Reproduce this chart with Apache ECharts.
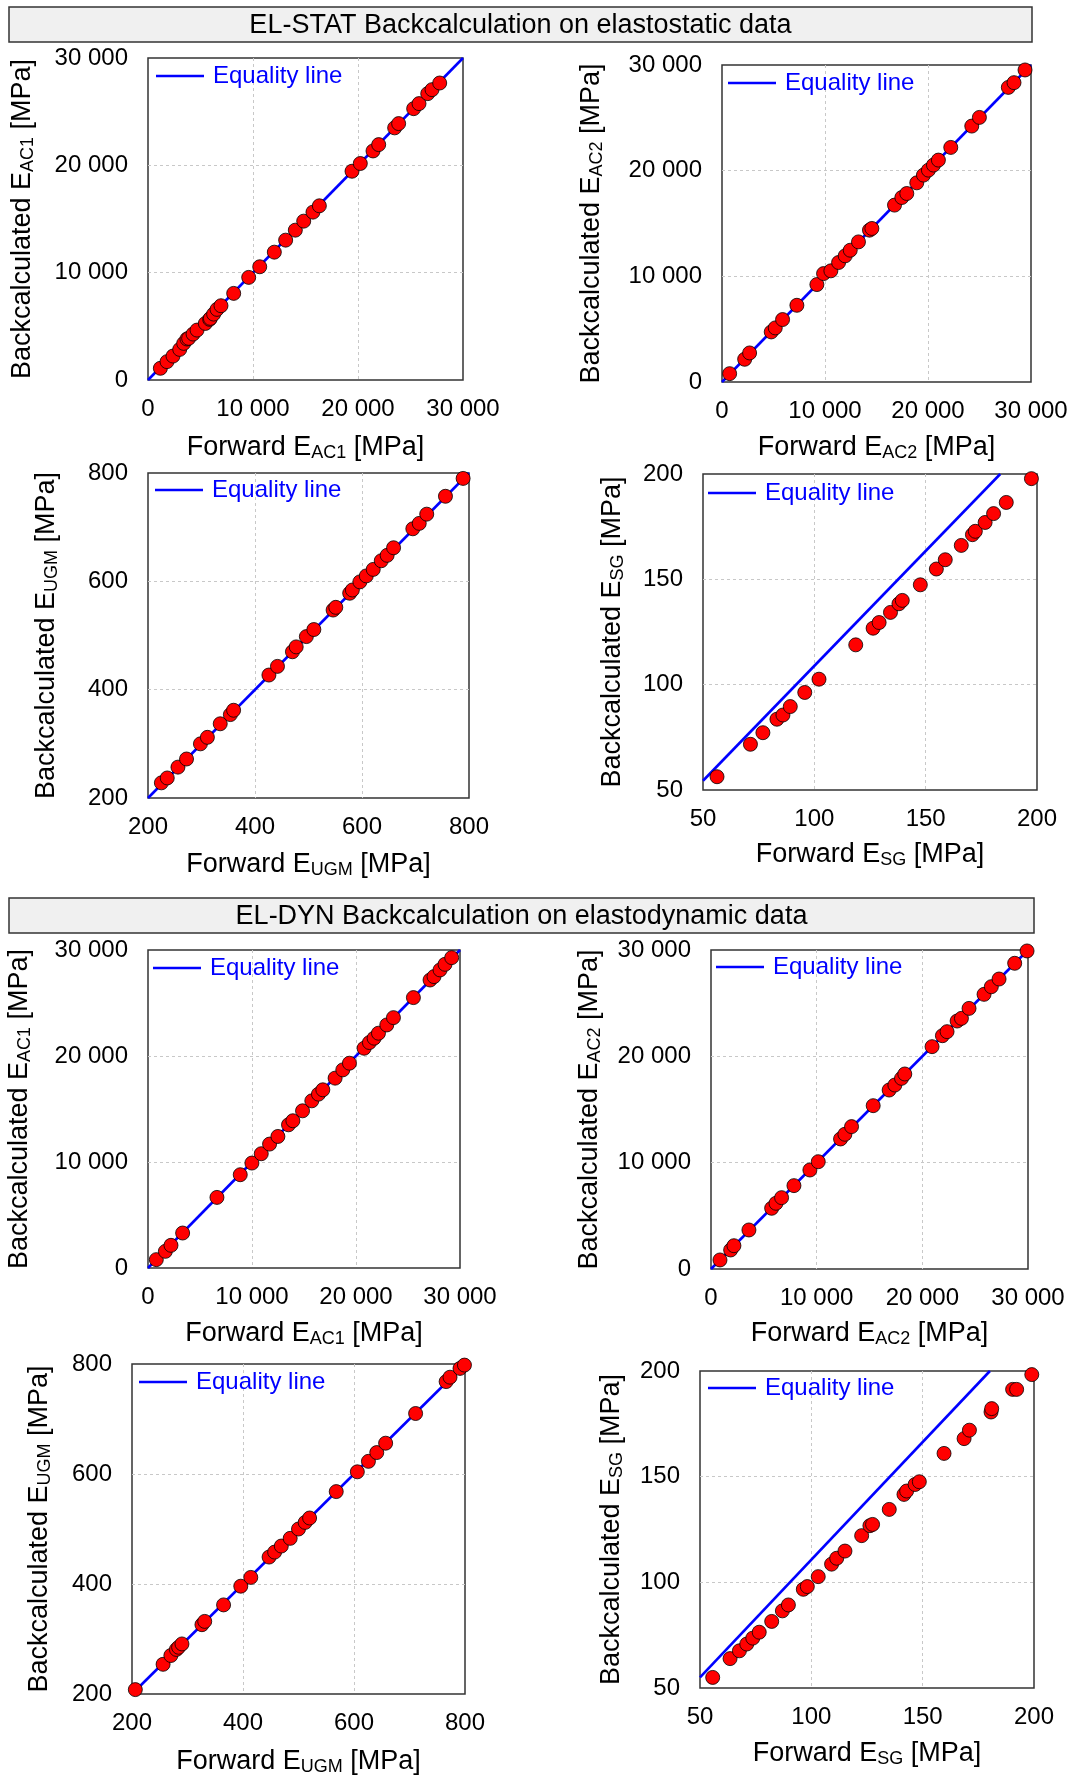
<!DOCTYPE html>
<html>
<head>
<meta charset="utf-8">
<script src="https://cdn.jsdelivr.net/npm/echarts@6/dist/echarts.min.js"></script>
<style>
html,body{margin:0;padding:0;background:#fff;}
#chart{width:1075px;height:1778px;}
</style>
</head>
<body>
<div id="chart"></div>
<script>
// ---------- tick labels / axis ranges ----------
const acTicks = [0, 10000, 20000, 30000];
const ugmTicks = [200, 400, 600, 800];
const sgTicks = [50, 100, 150, 200];

// ---------- titles ----------
const sectionTitles = ['EL-STAT Backcalculation on elastostatic data', 'EL-DYN Backcalculation on elastodynamic data'];
const legendName = 'Equality line';

// ---------- EL-STAT data ----------
const statAc1Fwd = [1180,1810,2380,3020,3400,3710,3870,4290,4670,5460,5870,5940,6250,6570,6950,8160,9590,10640,12030,13110,14030,14830,15710,16320,19430,20220,21430,21970,23490,23870,25300,25810,26640,27050,27780];
const statAc1Back = [1090,1710,2230,2850,3410,3820,3880,4280,4650,5270,5650,5740,6140,6580,6920,8070,9560,10550,11910,13030,13960,14800,15640,16230,19450,20170,21340,21930,23490,23890,25280,25750,26680,27050,27670];

const statAc2Fwd = [740,2200,2680,4780,5170,5880,7270,9210,9860,10570,11320,11960,12450,13250,14320,14550,16750,17460,17940,18910,19560,20040,20530,21010,22210,24250,24990,27800,28350,29420];
const statAc2Back = [790,2150,2750,4740,5120,5910,7260,9220,10260,10520,11310,11940,12470,13260,14370,14530,16740,17460,17840,18850,19580,20050,20530,21000,22200,24220,25040,27880,28330,29530];

const statUgmFwd = [225,236,256,272,298,311,335,354,360,426,442,470,477,496,510,546,551,577,582,596,608,621,636,647,659,695,707,721,756,789];
const statUgmBack = [228,237,257,272,300,312,337,354,362,427,443,470,479,498,511,547,552,578,584,599,610,622,638,648,662,697,707,724,757,790];

const statSgFwd = [56.3,71.3,76.9,83.2,85.9,89.2,95.7,102.1,118.6,126.4,129.1,134.2,138.0,139.5,147.6,154.8,158.8,166.0,171.0,172.3,176.7,180.5,186.2,197.5];
const statSgBack = [56.3,71.7,77.2,83.6,85.6,89.6,96.3,102.6,118.9,126.8,129.5,134.3,138.4,140.0,147.4,154.9,159.3,166.1,171.2,172.8,177.0,181.2,186.5,197.8];
const statSgLine = [[50, 54.4], [183.5, 200]];

// ---------- EL-DYN data ----------
const dynAc1Fwd = [800,1670,2210,3330,6630,8870,9990,10890,11690,12490,13510,13930,14860,15750,16390,16810,17990,18730,19370,20780,21290,21740,22160,22960,23600,25520,27120,27500,28080,28560,29200];
const dynAc1Back = [790,1570,2140,3300,6660,8800,9900,10780,11690,12410,13510,13890,14830,15770,16400,16810,17910,18690,19320,20730,21270,21680,22150,22930,23620,25510,27170,27490,28120,28650,29280];

const dynAc2Fwd = [850,1860,2170,3590,5740,6150,6680,7850,9360,10150,12260,12670,13300,15350,16860,17400,18030,18340,20920,21900,22340,23290,23700,24420,25840,26530,27260,28740,29910];
const dynAc2Back = [850,1790,2190,3670,5710,6180,6710,7840,9310,10090,12230,12670,13390,15360,16830,17300,17930,18340,20910,21940,22320,23320,23570,24510,25830,26550,27270,28750,29910];

const dynUgmFwd = [206,256,270,280,284,290,326,331,365,396,414,447,457,469,485,500,512,520,568,606,626,641,657,711,766,773,791,799];
const dynUgmBack = [208,254,270,281,285,291,326,332,362,396,412,449,458,469,483,500,512,520,568,604,623,639,656,710,768,776,792,798];

const dynSgFwd = [55.7,63.5,67.7,71.0,73.7,76.6,82.2,87.0,89.7,96.4,98.2,103.1,109.1,111.4,115.1,122.6,126.3,127.5,135.0,141.6,142.8,146.6,148.5,159.6,168.6,171.0,180.7,181.0,190.4,192.2,199.0];
const dynSgBack = [55.0,63.9,67.6,70.8,73.6,76.4,81.5,86.5,89.3,96.7,98.0,102.7,108.6,111.4,114.8,122.1,126.8,127.4,134.5,141.6,143.2,146.3,147.6,161.0,168.0,172.0,180.6,182.2,191.3,191.3,198.3];
const dynSgLine = [[50, 55.0], [180.2, 200]];

// ---------- build ----------
const zip = (a, b) => a.map((v, i) => [v, b[i]]);
const fmt = v => String(v).replace(/\B(?=(\d{3})+(?!\d))/g, ' ');
const diag = t => [[t[0], t[0]], [t[t.length - 1], t[t.length - 1]]];

const panels = [
  {fwd: statAc1Fwd, back: statAc1Back, ticks: acTicks, sub: 'AC1', line: diag(acTicks), g: [148, 58, 315, 322], xg: 53, yg: 110, lg: [156, 62]},
  {fwd: statAc2Fwd, back: statAc2Back, ticks: acTicks, sub: 'AC2', line: diag(acTicks), g: [722, 65, 309, 317], xg: 51, yg: 115, lg: [728, 69]},
  {fwd: statUgmFwd, back: statUgmBack, ticks: ugmTicks, sub: 'UGM', line: diag(ugmTicks), g: [148, 473, 321, 325], xg: 52, yg: 86, lg: [155, 476]},
  {fwd: statSgFwd, back: statSgBack, ticks: sgTicks, sub: 'SG', line: statSgLine, g: [703, 474, 334, 316], xg: 50, yg: 75, lg: [708, 479]},
  {fwd: dynAc1Fwd, back: dynAc1Back, ticks: acTicks, sub: 'AC1', line: diag(acTicks), g: [148, 950, 312, 318], xg: 51, yg: 113, lg: [153, 954]},
  {fwd: dynAc2Fwd, back: dynAc2Back, ticks: acTicks, sub: 'AC2', line: diag(acTicks), g: [711, 950, 317, 319], xg: 50, yg: 106, lg: [716, 953]},
  {fwd: dynUgmFwd, back: dynUgmBack, ticks: ugmTicks, sub: 'UGM', line: diag(ugmTicks), g: [132, 1364, 333, 330], xg: 53, yg: 77, lg: [139, 1368]},
  {fwd: dynSgFwd, back: dynSgBack, ticks: sgTicks, sub: 'SG', line: dynSgLine, g: [700, 1371, 334, 317], xg: 51, yg: 73, lg: [708, 1374]}
];

const FONT = '"Liberation Sans", Arial, sans-serif';
const rich = {
  n: {fontSize: 27, fontFamily: FONT, color: '#000', lineHeight: 30},
  s: {fontSize: 18, fontFamily: FONT, color: '#000', padding: [11, 0, 0, 0], lineHeight: 18}
};

const grid = [], xAxis = [], yAxis = [], series = [], legend = [];
panels.forEach((p, i) => {
  grid.push({left: p.g[0], top: p.g[1], width: p.g[2], height: p.g[3], show: true,
    borderColor: '#333', borderWidth: 1.5, backgroundColor: 'transparent', containLabel: false});
  const t = p.ticks;
  const common = {
    gridIndex: i, type: 'value', min: t[0], max: t[t.length - 1], interval: t[1] - t[0],
    nameLocation: 'middle',
    axisLine: {show: false}, axisTick: {show: false},
    splitLine: {show: true, showMinLine: false, showMaxLine: false, lineStyle: {color: '#c8c8c8', type: [3, 3], width: 1}},
    nameTextStyle: {rich: rich}
  };
  xAxis.push(Object.assign({}, common, {
    name: '{n|Forward E}{s|' + p.sub + '}{n| [MPa]}', nameGap: p.xg,
    axisLabel: {formatter: fmt, fontSize: 24, fontFamily: FONT, color: '#000', margin: 17}
  }));
  yAxis.push(Object.assign({}, common, {
    name: '{n|Backcalculated E}{s|' + p.sub + '}{n| [MPa]}', nameGap: p.yg, nameRotate: 90,
    axisLabel: {formatter: fmt, fontSize: 24, fontFamily: FONT, color: '#000', margin: 20}
  }));
  series.push({
    name: legendName, type: 'line', xAxisIndex: i, yAxisIndex: i, data: p.line,
    symbol: 'none', lineStyle: {color: '#0000ff', width: 2.6}, itemStyle: {color: '#0000ff'},
    z: 2, silent: true, animation: false
  });
  series.push({
    name: 'data' + i, type: 'scatter', xAxisIndex: i, yAxisIndex: i, data: zip(p.fwd, p.back),
    symbol: 'circle', symbolSize: 14,
    itemStyle: {color: '#ff0000', borderColor: '#000', borderWidth: 0.8, opacity: 1},
    z: 3, animation: false
  });
  legend.push({
    left: p.lg[0], top: p.lg[1], padding: 0, data: [{name: legendName, icon: 'rect'}],
    itemWidth: 48, itemHeight: 2.6, selectedMode: false,
    textStyle: {fontSize: 24, fontFamily: FONT, color: '#0000ff', padding: [0, 0, 0, 4], lineHeight: 28}
  });
});

const titleBoxes = [[9, 7, 1023, 35], [9, 898, 1025, 35]];
const graphic = [];
titleBoxes.forEach((b, i) => {
  graphic.push({type: 'rect', shape: {x: b[0], y: b[1], width: b[2], height: b[3]},
    style: {fill: '#f0f0f0', stroke: '#333', lineWidth: 1.5}, z: 1});
  graphic.push({type: 'text', x: b[0] + b[2] / 2, y: b[1] + b[3] / 2 + 1,
    style: {text: sectionTitles[i], fontSize: 27, fontFamily: FONT, fill: '#000', align: 'center', verticalAlign: 'middle'}, z: 2});
});

const chart = echarts.init(document.getElementById('chart'), null, {renderer: 'canvas'});
chart.setOption({
  animation: false,
  backgroundColor: '#fff',
  grid, xAxis, yAxis, series, legend, graphic
});
</script>
</body>
</html>
